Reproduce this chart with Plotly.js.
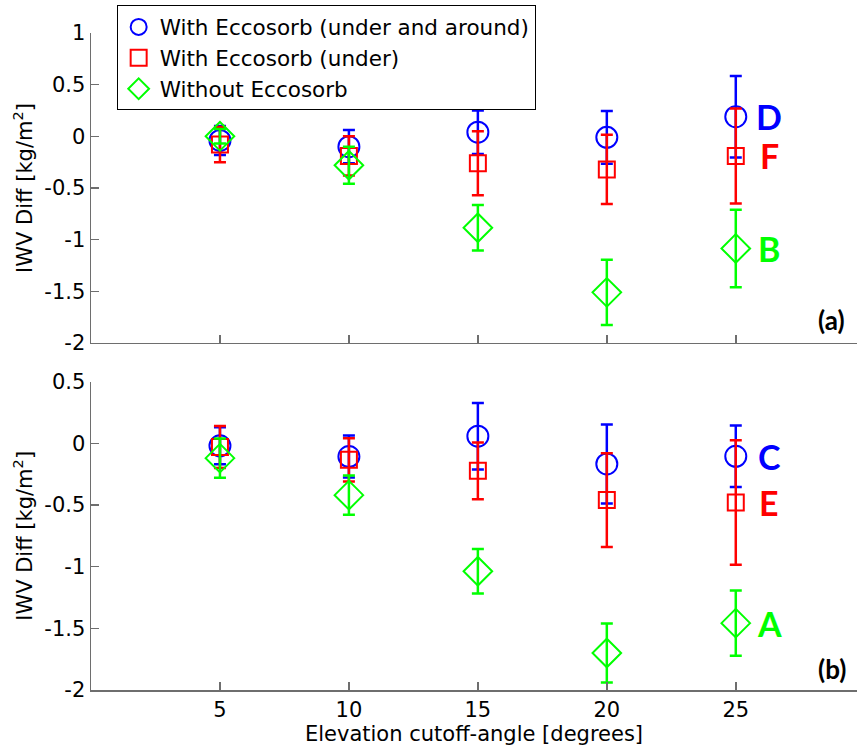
<!DOCTYPE html>
<html>
<head>
<meta charset="utf-8">
<script src="https://cdn.plot.ly/plotly-3.0.1.min.js"></script>
<style>html,body{margin:0;padding:0;background:#fff;}#chart{width:857px;height:750px;}</style>
</head>
<body>
<div id="chart"></div>
<script>
// Elevation cutoff angles [degrees]
const angles = [5, 10, 15, 20, 25];

// Panel (a)
const aroundA = [-0.04, -0.10, 0.04, -0.01, 0.19];
const errAroundA = [0.14, 0.16, 0.21, 0.255, 0.395];
const underA = [-0.08, -0.19, -0.26, -0.32, -0.19];
const errUnderA = [0.17, 0.19, 0.31, 0.335, 0.46];
const withoutA = [0.0, -0.28, -0.885, -1.51, -1.085];
const errWithoutA = [0.07, 0.18, 0.22, 0.315, 0.375];

// Panel (b)
const aroundB = [-0.02, -0.107, 0.058, -0.167, -0.105];
const errAroundB = [0.15, 0.17, 0.27, 0.32, 0.25];
const underB = [-0.03, -0.134, -0.223, -0.46, -0.48];
const errUnderB = [0.17, 0.175, 0.23, 0.38, 0.505];
const withoutB = [-0.12, -0.42, -1.037, -1.70, -1.458];
const errWithoutB = [0.16, 0.16, 0.18, 0.24, 0.265];

const seriesNames = ['With Eccosorb (under and around)', 'With Eccosorb (under)', 'Without Eccosorb'];
const labelsA = ['D', 'F', 'B'];
const labelsB = ['C', 'E', 'A'];
const panelLabels = ['(a)', '(b)'];

const xTickVals = [5, 10, 15, 20, 25];
const xTickText = ['5', '10', '15', '20', '25'];
const yTickValsA = [-2, -1.5, -1, -0.5, 0, 0.5, 1];
const yTickTextA = ['-2', '-1.5', '-1', '-0.5', '0', '0.5', '1'];
const yTickValsB = [-2, -1.5, -1, -0.5, 0, 0.5];
const yTickTextB = ['-2', '-1.5', '-1', '-0.5', '0', '0.5'];

const colors = ['#0000ff', '#ff0000', '#00ff00'];
const symbols = ['circle-open', 'square-open', 'diamond-open'];
const sizes = [21, 16, 22];

function mk(y, err, i, xa, ya, show) {
  return {
    type: 'scatter', mode: 'markers', x: angles, y: y,
    xaxis: xa, yaxis: ya, name: seriesNames[i], showlegend: show,
    marker: {symbol: symbols[i], size: sizes[i], color: colors[i], line: {width: 2, color: colors[i]}},
    error_y: {type: 'data', array: err, visible: true, color: colors[i], thickness: 2.5, width: 6}
  };
}

const traces = [
  mk(aroundA, errAroundA, 0, 'x', 'y', true),
  mk(underA, errUnderA, 1, 'x', 'y', true),
  mk(withoutA, errWithoutA, 2, 'x', 'y', true),
  mk(aroundB, errAroundB, 0, 'x2', 'y2', false),
  mk(underB, errUnderB, 1, 'x2', 'y2', false),
  mk(withoutB, errWithoutB, 2, 'x2', 'y2', false)
];

const valsA = [aroundA[4], underA[4], withoutA[4]];
const valsB = [aroundB[4], underB[4], withoutB[4]];
const annotations = [];
for (let i = 0; i < 3; i++) {
  annotations.push({x: 26.3, y: valsA[i], xref: 'x', yref: 'y', text: labelsA[i], showarrow: false,
    xanchor: 'center', yanchor: 'middle', font: {family: 'Lato', size: 34, color: colors[i], weight: 'bold'}});
  annotations.push({x: 26.3, y: valsB[i], xref: 'x2', yref: 'y2', text: labelsB[i], showarrow: false,
    xanchor: 'center', yanchor: 'middle', font: {family: 'Lato', size: 34, color: colors[i], weight: 'bold'}});
}
annotations.push({x: 28.72, y: -1.78, xref: 'x', yref: 'y', text: panelLabels[0], showarrow: false,
  xanchor: 'center', yanchor: 'middle', font: {family: 'Lato', size: 26, color: '#000', weight: 'bold'}});
annotations.push({x: 28.72, y: -1.83, xref: 'x2', yref: 'y2', text: panelLabels[1], showarrow: false,
  xanchor: 'center', yanchor: 'middle', font: {family: 'Lato', size: 26, color: '#000', weight: 'bold'}});

const axisCommon = {
  showline: true, linecolor: '#6e6e6e', linewidth: 1.5, mirror: false,
  ticks: 'inside', ticklen: 8, tickcolor: '#6e6e6e', tickwidth: 1.5,
  showgrid: false, zeroline: false,
  tickfont: {family: 'DejaVu Sans', size: 21, color: '#000'}
};
const titleFont = {family: 'DejaVu Sans', size: 21, color: '#000'};

const layout = {
  width: 857, height: 750,
  margin: {l: 91, r: 0, t: 33, b: 60},
  paper_bgcolor: '#fff', plot_bgcolor: '#fff',
  showlegend: true,
  legend: {x: 0.0335, y: 1.042, xanchor: 'left', yanchor: 'top', bgcolor: '#fff',
    bordercolor: '#000', borderwidth: 1, font: {family: 'DejaVu Sans', size: 21.5, color: '#000'},
    tracegroupgap: 0, itemwidth: 32},
  xaxis: Object.assign({}, axisCommon, {range: [0, 29.7], tickvals: xTickVals, ticktext: xTickText,
    showticklabels: false, anchor: 'y', domain: [0, 1]}),
  yaxis: Object.assign({}, axisCommon, {range: [-2, 1], tickvals: yTickValsA, ticktext: yTickTextA,
    domain: [0.5282, 1], anchor: 'x',
    title: {text: 'IWV Diff [kg/m<sup>2</sup>]', font: titleFont, standoff: 6}}),
  xaxis2: Object.assign({}, axisCommon, {range: [0, 29.7], tickvals: xTickVals, ticktext: xTickText,
    anchor: 'y2', domain: [0, 1],
    title: {text: 'Elevation cutoff-angle [degrees]', font: titleFont, standoff: 0}}),
  yaxis2: Object.assign({}, axisCommon, {range: [-2, 0.5], tickvals: yTickValsB, ticktext: yTickTextB,
    domain: [0, 0.4693], anchor: 'x2',
    title: {text: 'IWV Diff [kg/m<sup>2</sup>]', font: titleFont, standoff: 6}}),
  annotations: annotations
};

Plotly.newPlot('chart', traces, layout, {displayModeBar: false, staticPlot: true});
</script>
</body>
</html>
